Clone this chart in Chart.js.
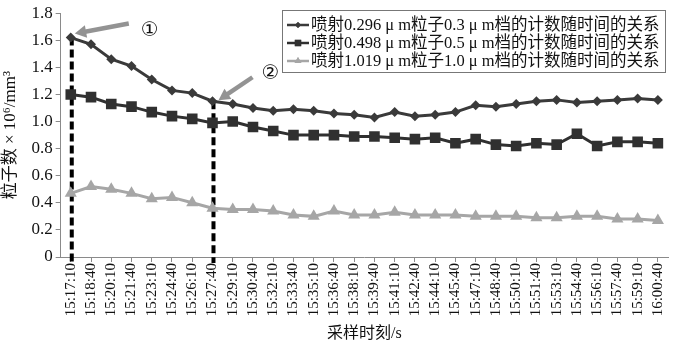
<!DOCTYPE html>
<html>
<head>
<meta charset="utf-8">
<script src="https://cdn.jsdelivr.net/npm/chart.js@4"></script>
<style>
  html, body { margin: 0; padding: 0; background: #fff; }
  #wrap { width: 679px; height: 349px; }
</style>
</head>
<body>
<div id="wrap"><canvas id="myChart" width="679" height="349"></canvas></div>
<script>
const timeLabels = [
  '15:17:10', '15:18:40', '15:20:10', '15:21:40', '15:23:10', '15:24:40',
  '15:26:10', '15:27:40', '15:29:10', '15:30:40', '15:32:10', '15:33:40',
  '15:35:10', '15:36:40', '15:38:10', '15:39:40', '15:41:10', '15:42:40',
  '15:44:10', '15:45:40', '15:47:10', '15:48:40', '15:50:10', '15:51:40',
  '15:53:10', '15:54:40', '15:56:10', '15:57:40', '15:59:10', '16:00:40'
];

const count03 = [
  1.62, 1.57, 1.46, 1.41, 1.31, 1.23, 1.21, 1.15, 1.13, 1.10,
  1.08, 1.09, 1.08, 1.06, 1.05, 1.03, 1.07, 1.04, 1.05, 1.07,
  1.12, 1.11, 1.13, 1.15, 1.16, 1.14, 1.15, 1.16, 1.17, 1.16
];
const count05 = [
  1.20, 1.18, 1.13, 1.11, 1.07, 1.04, 1.02, 0.99, 1.00, 0.96,
  0.93, 0.90, 0.90, 0.90, 0.89, 0.89, 0.88, 0.87, 0.88, 0.84,
  0.87, 0.83, 0.82, 0.84, 0.83, 0.91, 0.82, 0.85, 0.85, 0.84
];
const count10 = [
  0.47, 0.52, 0.50, 0.47, 0.43, 0.44, 0.40, 0.36, 0.35, 0.35,
  0.34, 0.31, 0.30, 0.34, 0.31, 0.31, 0.33, 0.31, 0.31, 0.31,
  0.30, 0.30, 0.30, 0.29, 0.29, 0.30, 0.30, 0.28, 0.28, 0.27
];

const seriesNames = [
  '喷射0.296 μ m粒子0.3 μ m档的计数随时间的关系',
  '喷射0.498 μ m粒子0.5 μ m档的计数随时间的关系',
  '喷射1.019 μ m粒子1.0 μ m档的计数随时间的关系'
];

// indices of the two marked moments
const markIdx = [0, 7];
const markText = ['①', '②'];

const serif = '"Liberation Serif", "Noto Sans CJK SC", serif';

const seriesStyle = [
  { color: '#3a3a3a', point: 'rectRot', radius: 5 },
  { color: '#303030', point: 'rect', radius: 7.5 },
  { color: '#a6a6a6', point: 'triangle', radius: 7 }
];

function arrow(ctx, x1, y1, x2, y2) {
  const ang = Math.atan2(y2 - y1, x2 - x1);
  const head = 13;
  ctx.save();
  ctx.strokeStyle = '#939393';
  ctx.fillStyle = '#939393';
  ctx.lineWidth = 4.5;
  ctx.beginPath();
  ctx.moveTo(x1, y1);
  ctx.lineTo(x2 - Math.cos(ang) * head * 0.8, y2 - Math.sin(ang) * head * 0.8);
  ctx.stroke();
  ctx.beginPath();
  ctx.moveTo(x2, y2);
  ctx.lineTo(x2 - head * Math.cos(ang - 0.5), y2 - head * Math.sin(ang - 0.5));
  ctx.lineTo(x2 - head * Math.cos(ang + 0.5), y2 - head * Math.sin(ang + 0.5));
  ctx.closePath();
  ctx.fill();
  ctx.restore();
}

const markerPlugin = {
  id: 'markers',
  beforeDatasetsDraw(chart) {
    const ctx = chart.ctx;
    const xs = chart.scales.x, ys = chart.scales.y;
    ctx.save();
    ctx.strokeStyle = '#000';
    ctx.lineWidth = 4;
    ctx.setLineDash([8, 4]);
    markIdx.forEach(i => {
      const x = xs.getPixelForValue(i) + 1;
      ctx.beginPath();
      ctx.moveTo(x, ys.getPixelForValue(count03[i]));
      ctx.lineTo(x, ys.getPixelForValue(0) + 6);
      ctx.stroke();
    });
    ctx.restore();
  },
  afterDraw(chart) {
    const ctx = chart.ctx;
    const xs = chart.scales.x, ys = chart.scales.y;

    // arrows pointing to the two marked points
    const p0x = xs.getPixelForValue(markIdx[0]), p0y = ys.getPixelForValue(count03[markIdx[0]]);
    const p1x = xs.getPixelForValue(markIdx[1]), p1y = ys.getPixelForValue(count03[markIdx[1]]);
    arrow(ctx, p0x + 58, p0y - 14, p0x + 4, p0y - 4);
    arrow(ctx, p1x + 40, p1y - 24, p1x + 6, p1y - 1);

    ctx.save();
    ctx.fillStyle = '#111';
    ctx.font = '20px "DejaVu Sans", "Noto Sans CJK SC", sans-serif';
    ctx.textAlign = 'center';
    ctx.textBaseline = 'middle';
    ctx.fillText(markText[0], p0x + 79, p0y - 7);
    ctx.fillText(markText[1], p1x + 58, p1y - 27);
    ctx.restore();

    // legend box
    const bx = 282, by = 10, bw = 383, bh = 62;
    ctx.save();
    ctx.fillStyle = '#fff';
    ctx.fillRect(bx, by, bw, bh);
    ctx.strokeStyle = '#777';
    ctx.lineWidth = 1;
    ctx.strokeRect(bx + 0.5, by + 0.5, bw, bh);
    const rows = [25, 43, 61];
    const legendSizes = [3, 4.5, 4];
    seriesNames.forEach((name, i) => {
      const s = seriesStyle[i];
      const y = rows[i];
      ctx.strokeStyle = s.color;
      ctx.lineWidth = 2.5;
      ctx.beginPath();
      ctx.moveTo(bx + 5, y);
      ctx.lineTo(bx + 27, y);
      ctx.stroke();
      ctx.fillStyle = s.color;
      Chart.helpers.drawPoint(ctx, { pointStyle: s.point, radius: legendSizes[i], borderWidth: 0 }, bx + 16, y);
      ctx.fill();
      ctx.fillStyle = '#111';
      ctx.font = '16.5px ' + serif;
      ctx.textAlign = 'left';
      ctx.textBaseline = 'middle';
      ctx.fillText(name, bx + 29, y + 1);
    });
    ctx.restore();
  }
};

const datasets = [count03, count05, count10].map((vals, i) => ({
  label: seriesNames[i],
  data: vals,
  borderColor: seriesStyle[i].color,
  backgroundColor: seriesStyle[i].color,
  borderWidth: 3,
  pointStyle: seriesStyle[i].point,
  pointRadius: seriesStyle[i].radius,
  pointBorderWidth: 0,
  tension: 0
}));

new Chart(document.getElementById('myChart').getContext('2d'), {
  type: 'line',
  data: { labels: timeLabels, datasets },
  options: {
    responsive: false,
    animation: false,
    layout: { padding: { left: 0, right: 11, top: 8, bottom: 6 } },
    plugins: {
      legend: { display: false },
      tooltip: { enabled: false }
    },
    scales: {
      x: {
        offset: true,
        afterFit: scale => { scale.height = 86; },
        border: { display: true, color: '#8a8a8a', width: 1 },
        grid: { drawOnChartArea: false, drawTicks: true, tickLength: 5, color: '#8a8a8a', offset: false },
        ticks: {
          color: '#111',
          font: { family: serif, size: 15 },
          minRotation: 90,
          maxRotation: 90,
          autoSkip: false,
          padding: 1
        },
        title: {
          display: true,
          text: '采样时刻/s',
          color: '#111',
          font: { family: serif, size: 16 },
          padding: { top: 2, bottom: 0 }
        }
      },
      y: {
        min: 0,
        max: 1.8,
        border: { display: true, color: '#8a8a8a', width: 1 },
        grid: { drawOnChartArea: false, drawTicks: true, tickLength: 5, color: '#8a8a8a' },
        ticks: {
          stepSize: 0.2,
          color: '#111',
          font: { family: serif, size: 17 },
          padding: 3,
          callback: v => (v === 0 ? '0' : v.toFixed(1))
        },
        title: {
          display: true,
          text: '粒子数 × 10⁶/mm³',
          color: '#111',
          font: { family: serif, size: 17 },
          padding: { top: 0, bottom: 8 }
        }
      }
    }
  },
  plugins: [markerPlugin]
});
</script>
</body>
</html>
